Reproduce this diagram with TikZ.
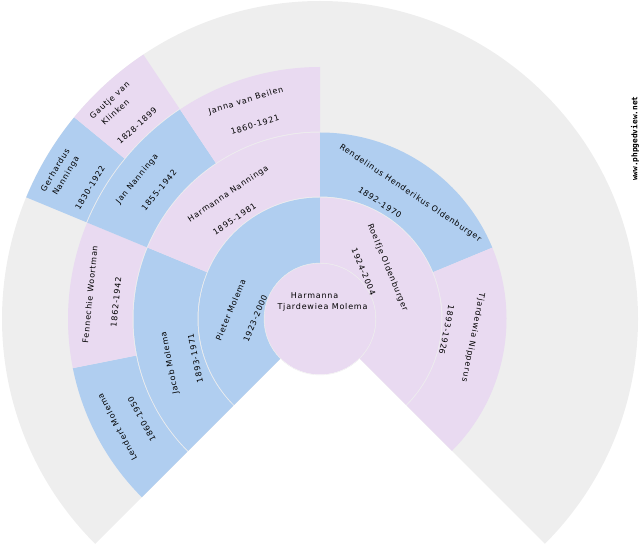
\documentclass[tikz,border=0pt]{standalone}
\usepackage{fontspec}
\setmainfont[LetterSpace=10]{DejaVu Sans}
\newfontfamily\siteface{DejaVu Sans Mono}
\definecolor{fanpink}{RGB}{233,218,241}
\definecolor{fanblue}{RGB}{176,206,240}
\definecolor{fangrey}{RGB}{238,238,238}
\tikzset{
  fantext/.style={inner sep=0pt,font=\fontsize{8bp}{9bp}\selectfont,text=black},
  sitetext/.style={inner sep=0pt,rotate=90,font=\siteface\bfseries\fontsize{7.8bp}{9bp}\selectfont}
}
% colour, start angle, end angle, inner radius, outer radius
\newcommand{\fansector}[5]{
  \fill[#1] (#2:#4) arc[start angle=#2,end angle=#3,radius=#4]
    -- (#3:#5) arc[start angle=#3,end angle=#2,radius=#5] -- cycle;
}
\begin{document}
\begin{tikzpicture}[x=1bp,y=1bp]
\useasboundingbox (0,0) rectangle (640,-550);

\begin{scope}[shift={(320,-319)}]
\fill[fangrey] (-135:0) -- (-135:318) arc[start angle=-135,end angle=-405,radius=318] -- cycle;
% first ring
\fansector{fanblue}{225}{90}{56}{121.5}
\fansector{fanpink}{90}{-45}{56}{121.5}
% second ring
\fansector{fanblue}{225}{157.5}{122.5}{186.5}
\fansector{fanpink}{157.5}{90}{122.5}{186.5}
\fansector{fanblue}{90}{22.5}{122.5}{186.5}
\fansector{fanpink}{22.5}{-45}{122.5}{186.5}
% third ring
\fansector{fanblue}{225}{191.25}{187.5}{252}
\fansector{fanpink}{191.25}{157.5}{187.5}{252}
\fansector{fanblue}{157.5}{123.75}{187.5}{252}
\fansector{fanpink}{123.75}{90}{187.5}{252}
% fourth ring
\fansector{fanblue}{157.5}{140.625}{253}{318}
\fansector{fanpink}{140.625}{123.75}{253}{318}
\fill[fanpink] (0,0) circle[radius=55.5];
\draw[fangrey] (0,0) circle[radius=56];
\end{scope}

\node[fantext] (rootname) at (314.5,-296) {Harmanna};
\node[fantext] (rootname2) at (322.5,-307.7) {Tjardewiea Molema};

\node[fantext,rotate=67.5] (pietername) at (230.7,-310) {Pieter Molema};
\node[fantext,rotate=67.5] (pieterdate) at (255.3,-318.3) {1923-2000};
\node[fantext,rotate=-67.5] (roelfjename) at (387.5,-267.5) {Roelfje Oldenburger};
\node[fantext,rotate=-67.5] (roelfjedate) at (363.7,-271.7) {1924-2004};

\node[fantext,rotate=101.25] (jacobname) at (170,-363) {Jacob Molema};
\node[fantext,rotate=101.25] (jacobdate) at (195.3,-358.3) {1893-1971};
\node[fantext,rotate=33.75] (harmannaname) at (228.3,-194) {Harmanna Nanninga};
\node[fantext,rotate=33.75] (harmannadate) at (234.5,-219) {1895-1981};
\node[fantext,rotate=-33.75] (rendelinusname) at (410.3,-193.3) {Rendelinus Henderikus Oldenburger};
\node[fantext,rotate=-33.75] (rendelinusdate) at (380,-202.5) {1892-1970};
\node[fantext,rotate=-101.25] (tjardewianame) at (473,-337.5) {Tjardewia Nipperus};
\node[fantext,rotate=-101.25] (tjardewiadate) at (446.7,-330) {1893-1926};

\node[fantext,rotate=118.1] (lendertname) at (117.3,-427.3) {Lendert Molema};
\node[fantext,rotate=118.1] (lendertdate) at (141.7,-419) {1860-1950};
\node[fantext,rotate=84.4] (fennechiename) at (90,-294.3) {Fennechie Woortman};
\node[fantext,rotate=84.4] (fennechiedate) at (116,-302) {1862-1942};
\node[fantext,rotate=50.6] (janname) at (137.3,-179) {Jan Nanninga};
\node[fantext,rotate=50.6] (jandate) at (159,-190.3) {1855-1942};
\node[fantext,rotate=16.9] (jannaname) at (246,-100.7) {Janna van Beilen};
\node[fantext,rotate=16.9] (jannadate) at (255,-124.7) {1860-1921};

\node[fantext,rotate=59] (gerhardusname) at (55,-170) {Gerhardus};
\node[fantext,rotate=59] (gerhardusname2) at (66.3,-176) {Nanninga};
\node[fantext,rotate=59] (gerhardusdate) at (90,-188) {1830-1922};
\node[fantext,rotate=42.2] (gautjename) at (110,-100.7) {Gautje van};
\node[fantext,rotate=42.2] (gautjename2) at (115.3,-112.3) {Klinken};
\node[fantext,rotate=42.2] (gautjedate) at (137,-126) {1828-1899};

\node[sitetext] (site) at (635,-138.7) {www.phpgedview.net};
\end{tikzpicture}
\end{document}
